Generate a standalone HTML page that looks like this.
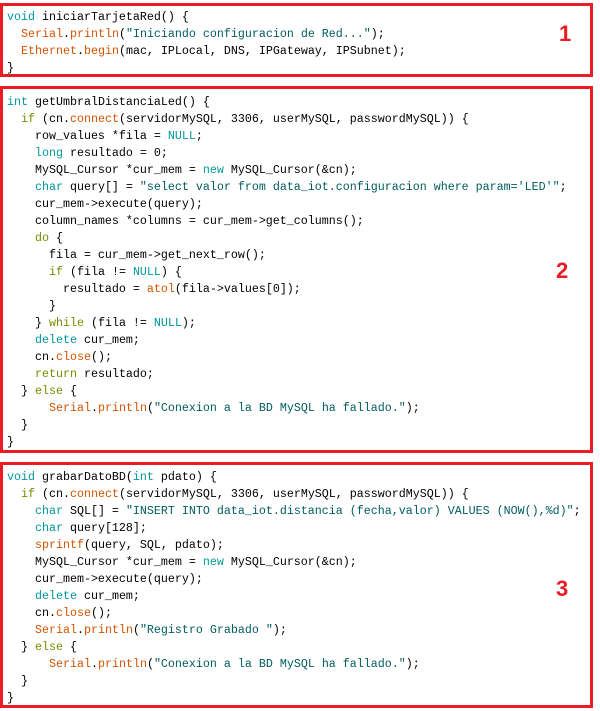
<!DOCTYPE html>
<html><head><meta charset="utf-8"><style>
html,body{margin:0;padding:0;background:#fff;width:600px;height:711px;overflow:hidden;position:relative}
.box{position:absolute;border:3px solid #ed1c24;box-sizing:border-box}
pre{position:absolute;left:7px;margin:0;font-family:"Liberation Mono",monospace;font-size:11.67px;line-height:17px;color:#000}
.k{color:#00979c}.c{color:#728e00}.f{color:#d35400}.s{color:#005c5f}
.n{position:absolute;font-family:"Liberation Sans",sans-serif;font-weight:bold;font-size:22px;color:#ed1c24}
</style></head><body>
<div class="box" style="left:0;top:3px;width:593px;height:74px"></div>
<div class="box" style="left:0;top:86px;width:593px;height:367px"></div>
<div class="box" style="left:0;top:462px;width:593px;height:246px"></div>
<div class="n" style="left:559px;top:21px">1</div>
<div class="n" style="left:556px;top:258px">2</div>
<div class="n" style="left:556px;top:576px">3</div>
<pre style="top:9px"><span class="k">void</span> iniciarTarjetaRed() {
  <span class="f">Serial</span>.<span class="f">println</span>(<span class="s">"Iniciando configuracion de Red..."</span>);
  <span class="f">Ethernet</span>.<span class="f">begin</span>(mac, IPLocal, DNS, IPGateway, IPSubnet);
}</pre>
<pre style="top:94px"><span class="k">int</span> getUmbralDistanciaLed() {
  <span class="c">if</span> (cn.<span class="f">connect</span>(servidorMySQL, 3306, userMySQL, passwordMySQL)) {
    row_values *fila = <span class="k">NULL</span>;
    <span class="k">long</span> resultado = 0;
    MySQL_Cursor *cur_mem = <span class="k">new</span> MySQL_Cursor(&amp;cn);
    <span class="k">char</span> query[] = <span class="s">"select valor from data_iot.configuracion where param='LED'"</span>;
    cur_mem-&gt;execute(query);
    column_names *columns = cur_mem-&gt;get_columns();
    <span class="c">do</span> {
      fila = cur_mem-&gt;get_next_row();
      <span class="c">if</span> (fila != <span class="k">NULL</span>) {
        resultado = <span class="f">atol</span>(fila-&gt;values[0]);
      }
    } <span class="c">while</span> (fila != <span class="k">NULL</span>);
    <span class="k">delete</span> cur_mem;
    cn.<span class="f">close</span>();
    <span class="c">return</span> resultado;
  } <span class="c">else</span> {
      <span class="f">Serial</span>.<span class="f">println</span>(<span class="s">"Conexion a la BD MySQL ha fallado."</span>);
  }
}</pre>
<pre style="top:469px"><span class="k">void</span> grabarDatoBD(<span class="k">int</span> pdato) {
  <span class="c">if</span> (cn.<span class="f">connect</span>(servidorMySQL, 3306, userMySQL, passwordMySQL)) {
    <span class="k">char</span> SQL[] = <span class="s">"INSERT INTO data_iot.distancia (fecha,valor) VALUES (NOW(),%d)"</span>;
    <span class="k">char</span> query[128];
    <span class="f">sprintf</span>(query, SQL, pdato);
    MySQL_Cursor *cur_mem = <span class="k">new</span> MySQL_Cursor(&amp;cn);
    cur_mem-&gt;execute(query);
    <span class="k">delete</span> cur_mem;
    cn.<span class="f">close</span>();
    <span class="f">Serial</span>.<span class="f">println</span>(<span class="s">"Registro Grabado "</span>);
  } <span class="c">else</span> {
      <span class="f">Serial</span>.<span class="f">println</span>(<span class="s">"Conexion a la BD MySQL ha fallado."</span>);
  }
}</pre>
</body></html>
